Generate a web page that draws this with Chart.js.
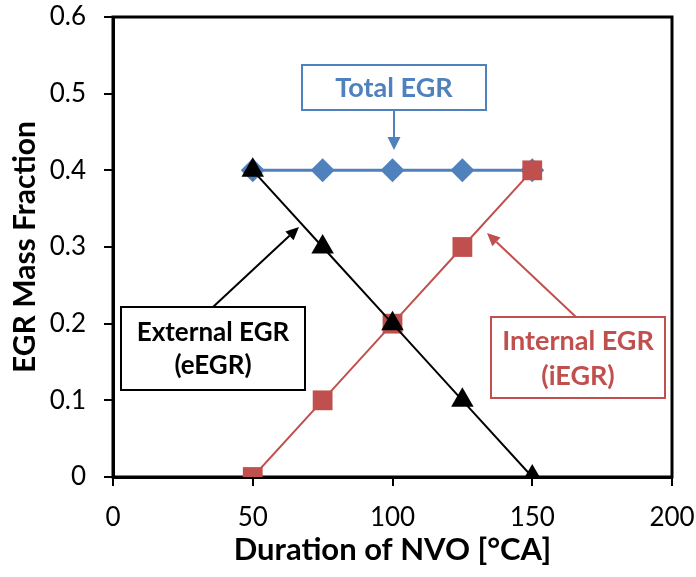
<!DOCTYPE html>
<html><head><meta charset="utf-8">
<script src="https://cdn.jsdelivr.net/npm/chart.js@4.4.1/dist/chart.umd.min.js"></script>
<style>html,body{margin:0;padding:0;background:#fff}#wrap{width:696px;height:577px}</style>
</head><body><div id="wrap"><canvas id="c" width="696" height="577"></canvas></div>
<script>
const nvo = [50, 75, 100, 125, 150];
const totalEGR = [0.4, 0.4, 0.4, 0.4, 0.4];
const externalEGR = [0.4, 0.3, 0.2, 0.1, 0.0];
const internalEGR = [0.0, 0.1, 0.2, 0.3, 0.4];
const xTicks = [0, 50, 100, 150, 200];
const yTicks = [0, 0.1, 0.2, 0.3, 0.4, 0.5, 0.6];

const BLUE = '#4F81BD', RED = '#C0504D', BLACK = '#000000';
const FONT = 'Lato, "Open Sans", sans-serif';
const pts = ys => nvo.map((x, i) => ({x, y: ys[i]}));

function arrow(ctx, x1, y1, x2, y2, color, lw, hl, hw) {
  const a = Math.atan2(y2 - y1, x2 - x1);
  const bx = x2 - hl * Math.cos(a), by = y2 - hl * Math.sin(a);
  ctx.save();
  ctx.strokeStyle = color; ctx.fillStyle = color; ctx.lineWidth = lw;
  ctx.beginPath(); ctx.moveTo(x1, y1); ctx.lineTo(bx, by); ctx.stroke();
  ctx.beginPath(); ctx.moveTo(x2, y2);
  ctx.lineTo(bx + hw / 2 * Math.sin(a), by - hw / 2 * Math.cos(a));
  ctx.lineTo(bx - hw / 2 * Math.sin(a), by + hw / 2 * Math.cos(a));
  ctx.closePath(); ctx.fill();
  ctx.restore();
}
function box(ctx, x, y, w, h, color, lines, size, lineH, dy) {
  ctx.save();
  ctx.fillStyle = '#fff'; ctx.fillRect(x, y, w, h);
  ctx.strokeStyle = color; ctx.lineWidth = 2; ctx.strokeRect(x, y, w, h);
  ctx.fillStyle = color; ctx.font = 'bold ' + size + 'px ' + FONT;
  ctx.textAlign = 'center'; ctx.textBaseline = 'middle';
  const cx = x + w / 2, cy = y + h / 2 + (dy || 0);
  lines.forEach((t, i) => ctx.fillText(t, cx, cy + (i - (lines.length - 1) / 2) * lineH));
  ctx.restore();
}

const frame = {
  id: 'frame',
  beforeDatasetsDraw(chart) {
    const {ctx, chartArea: a} = chart;
    ctx.save(); ctx.strokeStyle = '#000'; ctx.lineWidth = 3;
    ctx.strokeRect(a.left, a.top, a.right - a.left, a.bottom - a.top);
    ctx.restore();
  },
  afterDatasetsDraw(chart) {
    const ctx = chart.ctx;
    box(ctx, 302, 65, 184, 45, BLUE, ['Total EGR'], 27, 0, 1);
    arrow(ctx, 394, 110, 394, 150, BLUE, 2, 13, 13);
    arrow(ctx, 213, 307, 299, 227, BLACK, 2, 13, 12);
    box(ctx, 121, 307, 184, 83, BLACK, ['External EGR', '(eEGR)'], 26, 33, 1);
    arrow(ctx, 576, 317, 487, 233, RED, 2, 13, 12);
    box(ctx, 491, 317, 174, 81, RED, ['Internal EGR', '(iEGR)'], 27, 35, 1);
  }
};

new Chart(document.getElementById('c'), {
  type: 'scatter',
  data: {
    datasets: [
      {label: 'External EGR', data: pts(externalEGR), showLine: true, borderColor: BLACK, backgroundColor: BLACK,
       borderWidth: 2, pointStyle: 'triangle', pointRadius: 13, pointBorderWidth: 0, pointBackgroundColor: BLACK},
      {label: 'Internal EGR', data: pts(internalEGR), showLine: true, borderColor: RED, backgroundColor: RED,
       borderWidth: 2, pointStyle: 'rect', pointRadius: 14, pointBorderWidth: 0, pointBackgroundColor: RED},
      {label: 'Total EGR', data: pts(totalEGR), showLine: true, borderColor: BLUE, backgroundColor: BLUE,
       borderWidth: 3, pointStyle: 'rectRot', pointRadius: 12, pointBorderWidth: 0, pointBackgroundColor: BLUE}
    ]
  },
  options: {
    responsive: false, animation: false, devicePixelRatio: 1,
    layout: {padding: {top: 17, right: 24, left: 0, bottom: 0}},
    plugins: {legend: {display: false}, tooltip: {enabled: false}},
    scales: {
      x: {
        type: 'linear', min: 0, max: 200,
        afterBuildTicks: s => { s.ticks = xTicks.map(v => ({value: v})); },
        afterFit: s => { s.height = 100; s.paddingLeft = 0; s.paddingRight = 0; },
        border: {display: true, color: '#000', width: 3},
        grid: {drawOnChartArea: false, color: '#000', lineWidth: 2, tickLength: 9},
        ticks: {color: '#000', font: {family: FONT, size: 26}, padding: 16},
        title: {display: true, text: 'Duration of NVO [°CA]', color: '#000', font: {family: FONT, size: 31, weight: 'bold'}, padding: {top: 4, bottom: 8}}
      },
      y: {
        min: 0, max: 0.6,
        afterBuildTicks: s => { s.ticks = yTicks.map(v => ({value: v})); },
        afterFit: s => { s.width = 113; s.paddingTop = 0; s.paddingBottom = 0; },
        border: {display: true, color: '#000', width: 3},
        grid: {drawOnChartArea: false, color: '#000', lineWidth: 2, tickLength: 9},
        ticks: {color: '#000', font: {family: FONT, size: 26}, padding: 18, callback: v => v.toFixed(1).replace('0.0','0')},
        title: {display: true, text: 'EGR Mass Fraction', color: '#000', font: {family: FONT, size: 30, weight: 'bold'}, padding: {top: 7, bottom: 4}}
      }
    }
  },
  plugins: [frame]
});
</script></body></html>
